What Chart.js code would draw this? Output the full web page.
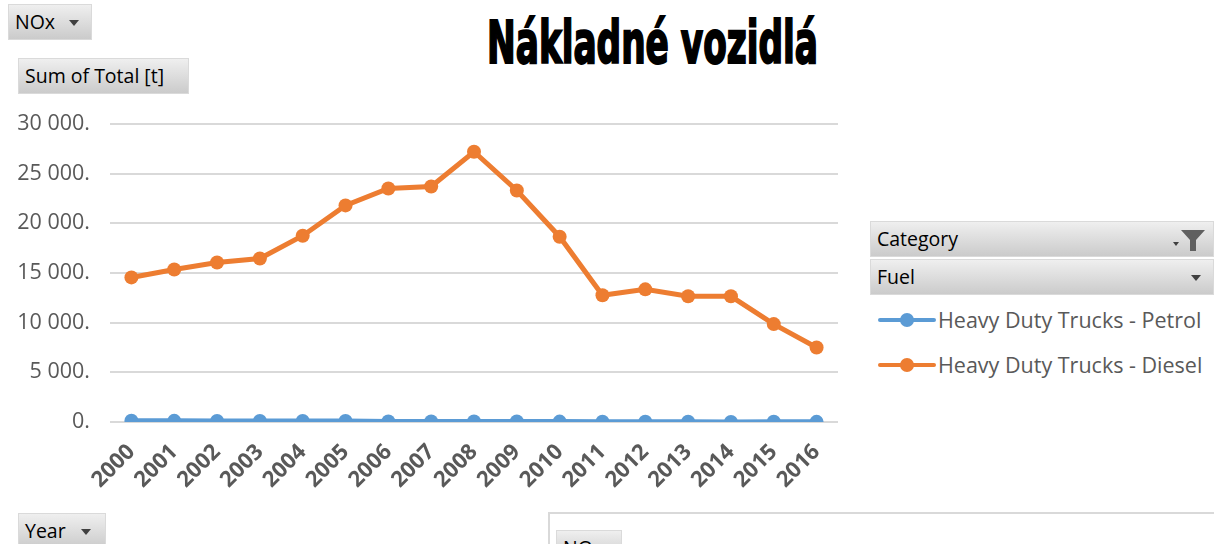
<!DOCTYPE html>
<html>
<head>
<meta charset="utf-8">
<script src="https://cdn.jsdelivr.net/npm/chart.js@4.4.0/dist/chart.umd.min.js"></script>
<style>
body { margin:0; width:1214px; height:544px; overflow:hidden; background:#fff; position:relative; font-family:'Open Sans', sans-serif; }
.btn { position:absolute; box-sizing:border-box; background:linear-gradient(#efefef, #cbcbcb); border:1px solid #dadada; color:#000; font-size:19.5px; padding-left:6px; white-space:nowrap; overflow:hidden; }
.arrow { position:absolute; width:0; height:0; border-left:5px solid transparent; border-right:5px solid transparent; border-top:6px solid #404040; }
#title { position:absolute; left:487px; top:13px; font-family:'DejaVu Sans Condensed', sans-serif; font-weight:bold; font-size:59px; color:#000; -webkit-text-stroke:2px #000; transform-origin:0 0; white-space:nowrap; line-height:1; }
#wrap { position:absolute; left:0; top:91px; width:860px; height:429px; }
#chart { display:block; }
#legend { position:absolute; left:878px; top:297px; }
.item { height:45px; display:flex; align-items:center; color:#595959; font-size:21.5px; }
.mark { position:relative; width:58px; height:14px; margin-right:2px; }
.mark .ln { position:absolute; left:0; right:0; top:5px; height:4px; border-radius:2px; }
.mark .pt { position:absolute; left:22px; top:0; width:14px; height:14px; border-radius:7px; }
#box { position:absolute; left:548px; top:512px; width:700px; height:60px; border:2px solid #d9d9d9; box-sizing:border-box; }
</style>
</head>
<body>
<div class="btn" style="left:8px;top:4px;width:84px;height:36px;line-height:34px;">NOx<span class="arrow" style="left:60px;top:15px;"></span></div>
<div id="title">Nákladné vozidlá</div>
<div class="btn" style="left:18px;top:58px;width:171px;height:36px;line-height:34px;">Sum of Total [t]</div>
<div id="wrap"><canvas id="chart" width="860" height="429"></canvas></div>
<div class="btn" style="left:870px;top:221px;width:344px;height:36px;line-height:34px;">Category
  <span class="arrow" style="left:302px;top:20px;border-left-width:3px;border-right-width:3px;border-top-width:4px;"></span>
  <svg style="position:absolute;left:308px;top:6px;" width="28" height="24" viewBox="0 0 28 24"><path d="M2 2 H26 L17 12 V23 H11 V12 Z" fill="#606060"/></svg>
</div>
<div class="btn" style="left:870px;top:259px;width:344px;height:36px;line-height:34px;">Fuel<span class="arrow" style="left:320px;top:15px;"></span></div>
<div id="legend"></div>
<div class="btn" style="left:18px;top:513px;width:88px;height:36px;line-height:34px;">Year<span class="arrow" style="left:62px;top:15px;"></span></div>
<div id="box"></div>
<div class="btn" style="left:556px;top:530px;width:66px;height:30px;line-height:34px;">NO</div>
<script>
const years = ['2000','2001','2002','2003','2004','2005','2006','2007','2008','2009','2010','2011','2012','2013','2014','2015','2016'];
const petrol = [120, 115, 110, 105, 100, 95, 60, 55, 50, 45, 40, 35, 30, 25, 5, 20, 15];
const diesel = [14550, 15350, 16050, 16450, 18750, 21800, 23500, 23700, 27200, 23300, 18650, 12750, 13350, 12650, 12650, 9850, 7500];
const seriesNames = ['Heavy Duty Trucks - Petrol', 'Heavy Duty Trucks - Diesel'];
const seriesColors = ['#5B9BD5', '#ED7D31'];

// squeeze the title to the Impact-like width
const title = document.getElementById('title');
const tw = title.getBoundingClientRect().width;
title.style.transform = 'scaleX(' + (331 / tw) + ')';

const fmt = v => {
    const s = Math.round(v).toString().replace(/\B(?=(\d{3})+(?!\d))/g, ' ');
    return s + '.';
};

const makeSet = (i, data) => ({
    label: seriesNames[i],
    data: data,
    borderColor: seriesColors[i],
    backgroundColor: seriesColors[i],
    borderWidth: 5,
    pointRadius: 7,
    pointHoverRadius: 7,
    pointBorderWidth: 0,
    tension: 0
});

const chart = new Chart(document.getElementById('chart').getContext('2d'), {
    type: 'line',
    data: {
        labels: years,
        datasets: [makeSet(0, petrol), makeSet(1, diesel)]
    },
    options: {
        responsive: false,
        animation: false,
        layout: { padding: { top: 16, right: 22, left: 0, bottom: 0 } },
        plugins: { legend: { display: false }, tooltip: { enabled: false } },
        scales: {
            x: {
                offset: true,
                grid: { display: false },
                border: { display: false },
                ticks: { minRotation: 45, maxRotation: 45, color: '#595959', padding: 9,
                    font: { family: 'Open Sans', size: 22, weight: 'bold' } },
                afterFit: s => { s.height = 98; }
            },
            y: {
                min: 0,
                max: 30000,
                grid: { color: '#d9d9d9', lineWidth: 2, drawTicks: false },
                border: { display: false },
                ticks: { stepSize: 5000, color: '#595959', padding: 20, callback: fmt,
                    font: { family: 'Open Sans', size: 21.5 } },
                afterFit: s => { s.width = 110; }
            }
        }
    }
});

// html legend built from the chart datasets
const legend = document.getElementById('legend');
chart.data.datasets.forEach(ds => {
    const row = document.createElement('div');
    row.className = 'item';
    row.innerHTML = '<span class="mark"><span class="ln" style="background:' + ds.borderColor + '"></span>' +
        '<span class="pt" style="background:' + ds.borderColor + '"></span></span>' + ds.label;
    legend.appendChild(row);
});
</script>
</body>
</html>
